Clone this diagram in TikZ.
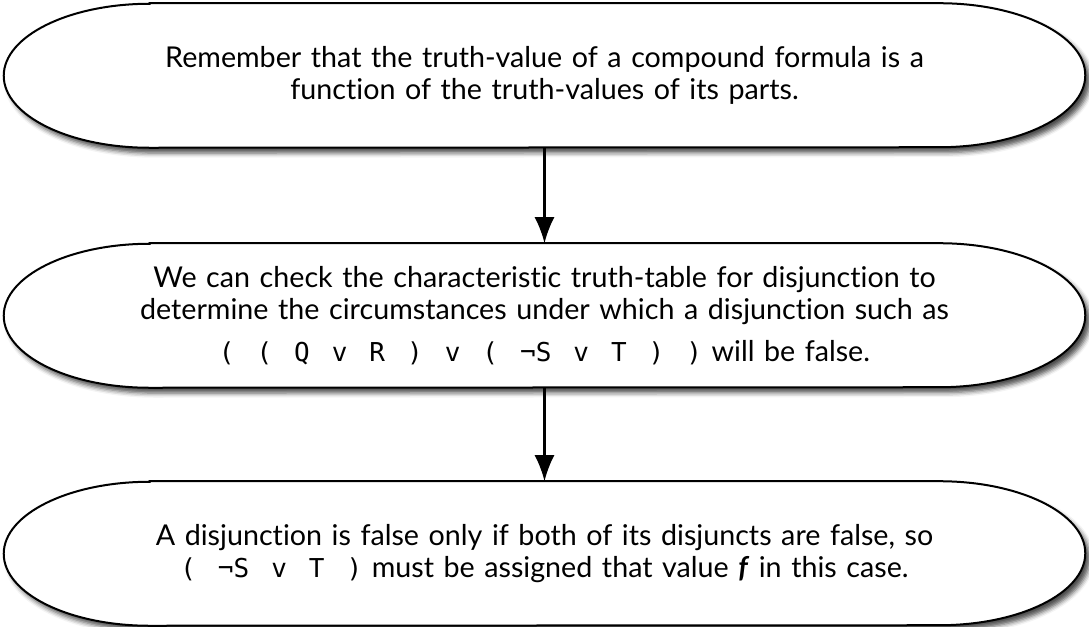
\documentclass[tikz,border=0pt]{standalone}
\usepackage{fontspec}
\setmainfont{Lato}[Ligatures=NoCommon]
\newfontfamily\logicfont{DejaVu Sans Mono}
\usepackage{tikz}
\usetikzlibrary{arrows.meta, backgrounds, shadows.blur}
\tikzstyle{stepnode} = [rectangle, inner sep=0pt, minimum width=810.75pt, minimum height=108pt, text width=740pt, align=center, font=\fontsize{21.5}{23.5}\selectfont]
\tikzstyle{capsule} = [draw=black, line width=1.5pt, fill=white, blur shadow={shadow xshift=3.5pt, shadow yshift=-4pt, shadow blur radius=3.5pt, shadow opacity=70}]
\tikzstyle{arrow} = [-{Latex[length=19.5pt, width=15pt]}, line width=1.6pt]
\newcommand{\formula}[1]{{\logicfont\fontsize{19.5}{23.5}\selectfont\spaceskip=16.5pt\relax #1}}

\begin{document}
\begin{tikzpicture}[x=0.75pt, y=0.75pt]
    \useasboundingbox (0,0) rectangle (1089,627);

    % Steps
    \node[stepnode] (remember) at (544.5,551.5) {Remember that the truth-value of a compound formula is a\\function of the truth-values of its parts.};
    \node[stepnode] (check) at (544.5,311.5) {We can check the characteristic truth-table for disjunction to\\determine the circumstances under which a disjunction such as\\[8pt]\formula{( ( Q v R ) v ( ¬S v T ) )} will be false.};
    \node[stepnode] (onlyif) at (544.5,73.5) {A disjunction is false only if both of its disjuncts are false, so\\\formula{( ¬S v T )} must be assigned that value \textbf{\textit{f}} in this case.};

    % Outlines
    \begin{scope}[on background layer]
    \foreach \n in {remember, check, onlyif}
        \draw[capsule] ([xshift=109.5pt]\n.north west) -- ([xshift=-109.5pt]\n.north east)
            arc[start angle=90, end angle=-90, x radius=109.5pt, y radius=54pt]
            -- ([xshift=109.5pt]\n.south west)
            arc[start angle=270, end angle=90, x radius=109.5pt, y radius=54pt] -- cycle;
    \end{scope}

    % Arrows
    \draw[arrow] (remember) -- (check);
    \draw[arrow] (check) -- (onlyif);
\end{tikzpicture}
\end{document}
